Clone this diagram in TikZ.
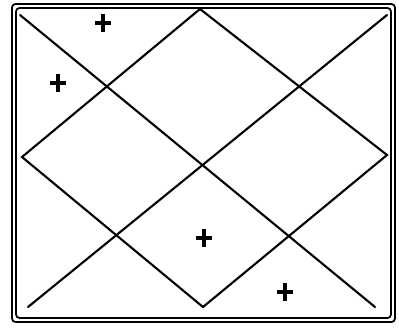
\documentclass[tikz,border=0pt]{standalone}
\begin{document}
\begin{tikzpicture}[x=0.03cm,y=-0.03cm,
  frame/.style={line width=1.5pt,rounded corners=3pt},
  stroke/.style={line width=1.8pt,line cap=round},
  plusmark/.style={line width=2.8pt}]
\useasboundingbox (0,0) rectangle (399,327);
% frame
\draw[frame] (12,4) rectangle (395,322);
\draw[frame] (16,8) rectangle (391,318);
% endpoints
\coordinate (tl) at (20,15);
\coordinate (tr) at (387,15);
\coordinate (bl) at (28,307);
\coordinate (br) at (375,307);
\coordinate (dt) at (200,9);
\coordinate (dr) at (387,155);
\coordinate (db) at (203,307);
\coordinate (dl) at (22,157);
% big X
\draw[stroke] (tl) -- (br);
\draw[stroke] (bl) -- (tr);
% diamond
\draw[stroke] (dt) -- (dl) -- (db);
\draw[stroke] (dt) -- (dr) -- (db);
% plus marks
\foreach \n/\px/\py in {p1/103/23, p2/58/83, p3/204/238, p4/285/292}{
  \coordinate (\n) at (\px,\py);
  \draw[plusmark] ([xshift=-0.24cm]\n) -- ([xshift=0.24cm]\n);
  \draw[plusmark] ([yshift=0.27cm]\n) -- ([yshift=-0.27cm]\n);
}
\end{tikzpicture}
\end{document}
